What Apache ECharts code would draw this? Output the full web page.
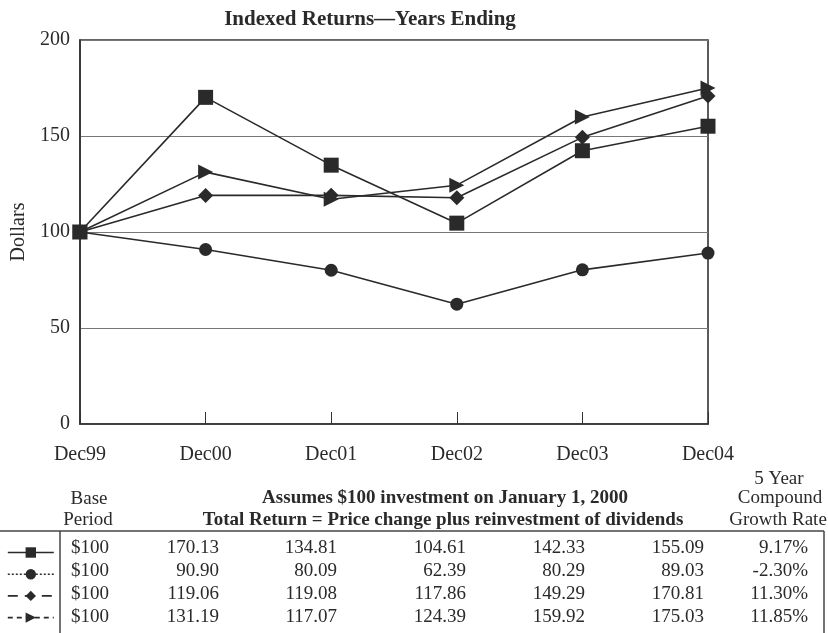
<!DOCTYPE html>
<html>
<head>
<meta charset="utf-8">
<script src="https://cdn.jsdelivr.net/npm/echarts@6/dist/echarts.min.js"></script>
<style>html,body{margin:0;padding:0;background:#fff}#c{width:828px;height:633px}</style>
</head>
<body>
<div id="c"></div>
<script>
var categories = ['Dec99', 'Dec00', 'Dec01', 'Dec02', 'Dec03', 'Dec04'];
var seriesSquare = [100, 170.13, 134.81, 104.61, 142.33, 155.09];
var seriesCircle = [100, 90.90, 80.09, 62.39, 80.29, 89.03];
var seriesDiamond = [100, 119.06, 119.08, 117.86, 149.29, 170.81];
var seriesTriangle = [100, 131.19, 117.07, 124.39, 159.92, 175.03];
var growthRates = ['9.17%', '-2.30%', '11.30%', '11.85%'];
var basePeriod = '$100';
var yTicks = [0, 50, 100, 150, 200];

var FONT = 'Liberation Serif';
var INK = '#2a2a2a';

var chart = echarts.init(document.getElementById('c'));

function lineSeries(name, data, symbol, size, rotate) {
  return {
    name: name, type: 'line', data: data,
    symbol: symbol, symbolSize: size, symbolRotate: rotate || 0,
    lineStyle: {color: INK, width: 1.6, type: 'solid'},
    itemStyle: {color: INK, borderWidth: 0},
    emphasis: {disabled: true},
    animation: false
  };
}

var rows = [
  {name: 'sq', data: seriesSquare},
  {name: 'ci', data: seriesCircle},
  {name: 'di', data: seriesDiamond},
  {name: 'tr', data: seriesTriangle}
];
var colRight = [219, 337, 466, 585, 704];
var rowY = [548, 571, 594, 617];

var graphics = [];
function txt(t, x, y, align, bold, size) {
  graphics.push({type: 'text', silent: true, style: {
    text: t, x: x, y: y, align: align, verticalAlign: 'middle', fill: INK,
    font: (bold ? 'bold ' : '') + (size || 19) + 'px "' + FONT + '"'
  }});
}
txt('Base', 89, 499, 'center');
txt('Period', 88, 520, 'center');
txt('Assumes $100 investment on January 1, 2000', 445, 498, 'center', true);
txt('Total Return = Price change plus reinvestment of dividends', 443, 520, 'center', true);
txt('5 Year', 779, 479, 'center');
txt('Compound', 780, 498, 'center');
txt('Growth Rate', 778, 520, 'center');
rows.forEach(function (r, i) {
  txt(basePeriod, 71, rowY[i], 'left');
  for (var k = 1; k < r.data.length; k++) {
    txt(r.data[k].toFixed(2), colRight[k - 1], rowY[i], 'right');
  }
  txt(growthRates[i], 808, rowY[i], 'right');
});
graphics.push({type: 'line', silent: true, shape: {x1: 0, y1: 531, x2: 824, y2: 531}, style: {stroke: '#444', lineWidth: 1.5}});
graphics.push({type: 'line', silent: true, shape: {x1: 824, y1: 531, x2: 824, y2: 633}, style: {stroke: '#444', lineWidth: 1.5}});
graphics.push({type: 'line', silent: true, shape: {x1: 60, y1: 531, x2: 60, y2: 633}, style: {stroke: '#444', lineWidth: 1.5}});

chart.setOption({
  backgroundColor: '#fff',
  animation: false,
  title: {
    text: 'Indexed Returns\u2014Years Ending', left: 365, top: 4, textAlign: 'center',
    textStyle: {fontFamily: FONT, fontWeight: 'bold', fontSize: 21, color: INK}
  },
  legend: {
    orient: 'vertical', left: 2, top: 541, itemGap: 10, itemWidth: 46, itemHeight: 13,
    selectedMode: false, formatter: function () { return ''; },
    textStyle: {fontSize: 8},
    data: [
      {name: 'sq', lineStyle: {type: 'solid', width: 1.6, color: INK}},
      {name: 'ci', lineStyle: {type: [2, 2], width: 1.4, color: INK}},
      {name: 'di', lineStyle: {type: [10, 7], width: 1.6, color: INK}},
      {name: 'tr', lineStyle: {type: [5, 4], width: 1.6, color: INK}}
    ]
  },
  grid: {left: 80, right: 120, top: 40, bottom: 209, show: true, borderColor: '#333', borderWidth: 1.6, backgroundColor: 'transparent'},
  xAxis: {
    type: 'category', data: categories, boundaryGap: false,
    axisLine: {lineStyle: {color: '#333', width: 1.6}},
    axisTick: {inside: true, length: 12, lineStyle: {color: '#333', width: 1}},
    axisLabel: {margin: 21, fontFamily: FONT, fontSize: 20, color: INK},
    splitLine: {show: false}
  },
  yAxis: {
    type: 'value', min: 0, max: 200, interval: 50,
    name: 'Dollars', nameLocation: 'middle', nameGap: 46, nameRotate: 90,
    nameTextStyle: {fontFamily: FONT, fontSize: 20, color: INK},
    axisLine: {show: true, lineStyle: {color: '#333', width: 1.6}},
    axisTick: {show: false},
    axisLabel: {margin: 10, fontFamily: FONT, fontSize: 20, color: INK,
      formatter: function (v) { return yTicks.indexOf(v) >= 0 ? String(v) : ''; }},
    splitLine: {show: true, lineStyle: {color: '#777', width: 1.2}}
  },
  series: [
    lineSeries('ci', seriesCircle, 'circle', 13),
    lineSeries('di', seriesDiamond, 'diamond', 15),
    lineSeries('tr', seriesTriangle, 'triangle', 15, -90),
    lineSeries('sq', seriesSquare, 'rect', 15)
  ],
  graphic: graphics
});
</script>
</body>
</html>
